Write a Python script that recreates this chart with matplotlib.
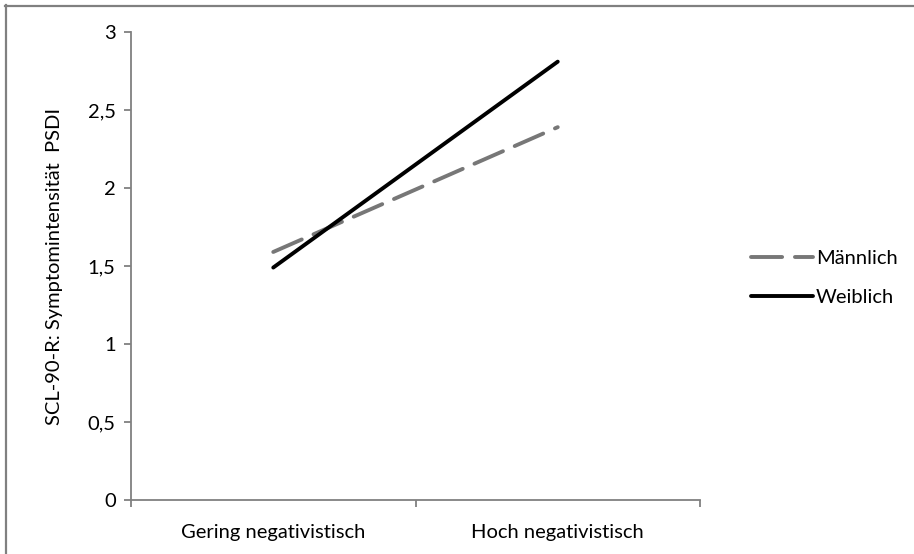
import matplotlib.pyplot as plt
from matplotlib.lines import Line2D
from matplotlib.ticker import FuncFormatter

plt.rcParams['font.family'] = ['Lato', 'DejaVu Sans']

# Daten
categories = ['Gering negativistisch', 'Hoch negativistisch']
maennlich = [1.59, 2.39]
weiblich = [1.49, 2.81]
y_ticks = [0, 0.5, 1, 1.5, 2, 2.5, 3]

grau = '#808080'
fs = 14.5

fig = plt.figure(figsize=(9.14, 5.54), dpi=100)
ax = fig.add_axes([131 / 914, 1 - 500 / 554, (700 - 131) / 914, (500 - 32) / 554])

x = range(len(categories))
ax.plot(x, maennlich, color='#777777', lw=2.8, dashes=(8, 3.3),
        dash_capstyle='round', solid_capstyle='round', label='Männlich')
ax.plot(x, weiblich, color='black', lw=2.8, solid_capstyle='round', label='Weiblich')

ax.set_xlim(-0.5, len(categories) - 0.5)
ax.set_ylim(0, 3)
ax.set_yticks(y_ticks)
ax.yaxis.set_major_formatter(FuncFormatter(lambda v, p: f'{v:g}'.replace('.', ',')))
ax.set_xticks(list(x))
ax.set_xticklabels(categories)
ax.set_xticks([-0.5, 0.5, 1.5], minor=True)
ax.tick_params(axis='x', which='major', length=0, pad=17, labelsize=fs)
ax.tick_params(axis='x', which='minor', length=5, width=1.3, color=grau, direction='out')
ax.tick_params(axis='y', length=5, width=1.3, color=grau, labelsize=fs, pad=6)

for s in ['top', 'right']:
    ax.spines[s].set_visible(False)
for s in ['left', 'bottom']:
    ax.spines[s].set_color(grau)
    ax.spines[s].set_linewidth(1.3)

ax.set_ylabel('SCL-90-R: Symptomintensität  PSDI', fontsize=fs, labelpad=18)

ax.legend(loc='center left', bbox_to_anchor=(1.057, 0.475), frameon=False,
          fontsize=fs, handlelength=3.1, handletextpad=0.15, labelspacing=1.1)

# Rahmen (oben und links)
fig.add_artist(Line2D([5 / 914, 1], [1 - 5.5 / 554] * 2, color=grau, lw=1.6,
                      transform=fig.transFigure))
fig.add_artist(Line2D([5.5 / 914] * 2, [0, 1 - 5 / 554], color=grau, lw=1.6,
                      transform=fig.transFigure))

fig.savefig('out.png', dpi=100)
